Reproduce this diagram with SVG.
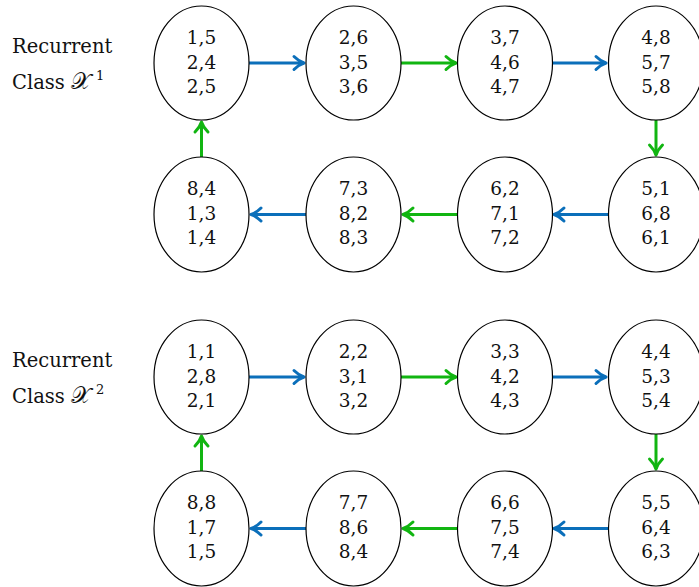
<svg xmlns="http://www.w3.org/2000/svg" width="699" height="587" viewBox="0 0 699 587">
<style>
.n ellipse{fill:#fff;stroke:#000;stroke-width:1.2}
.n text{font-family:"DejaVu Serif",serif;font-size:18.5px;text-anchor:middle;fill:#111}
.lbl{font-family:"DejaVu Serif",serif;font-size:19.5px;fill:#111}
.x{font-size:23px}
.b{stroke:#0b6fba;stroke-width:3;fill:none}
.g{stroke:#11b511;stroke-width:3;fill:none}
</style>
<defs>
<marker id="ab" markerUnits="userSpaceOnUse" markerWidth="20" markerHeight="20" refX="0" refY="0" viewBox="-12 -10 14 20" orient="auto" overflow="visible">
<path d="M-10,-6.5 Q-5,-1.5 0,0 Q-5,1.5 -10,6.5" fill="none" stroke="#0b6fba" stroke-width="3" stroke-linecap="round" stroke-linejoin="round"/>
</marker>
<marker id="ag" markerUnits="userSpaceOnUse" markerWidth="20" markerHeight="20" refX="0" refY="0" viewBox="-12 -10 14 20" orient="auto" overflow="visible">
<path d="M-10,-6.5 Q-5,-1.5 0,0 Q-5,1.5 -10,6.5" fill="none" stroke="#11b511" stroke-width="3" stroke-linecap="round" stroke-linejoin="round"/>
</marker>
</defs>

<text class="lbl" x="12" y="53">Recurrent</text>
<text class="lbl" x="12" y="89">Class <tspan class="x">𝒳</tspan><tspan font-size="13" dx="5" dy="-9">1</tspan></text>
<text class="lbl" x="12" y="367">Recurrent</text>
<text class="lbl" x="12" y="403">Class <tspan class="x">𝒳</tspan><tspan font-size="13" dx="5" dy="-9">2</tspan></text>

<g id="connectors">
<line class="b" x1="249" y1="63" x2="304" y2="63" marker-end="url(#ab)"/>
<line class="g" x1="401" y1="63" x2="456" y2="63" marker-end="url(#ag)"/>
<line class="b" x1="552" y1="63" x2="606" y2="63" marker-end="url(#ab)"/>
<line class="g" x1="656" y1="120" x2="656" y2="155" marker-end="url(#ag)"/>
<line class="b" x1="608" y1="214.5" x2="554" y2="214.5" marker-end="url(#ab)"/>
<line class="g" x1="458" y1="214.5" x2="403" y2="214.5" marker-end="url(#ag)"/>
<line class="b" x1="306" y1="214.5" x2="251" y2="214.5" marker-end="url(#ab)"/>
<line class="g" x1="201.5" y1="157" x2="201.5" y2="122" marker-end="url(#ag)"/>

<line class="b" x1="249" y1="377" x2="304" y2="377" marker-end="url(#ab)"/>
<line class="g" x1="401" y1="377" x2="456" y2="377" marker-end="url(#ag)"/>
<line class="b" x1="552" y1="377" x2="606" y2="377" marker-end="url(#ab)"/>
<line class="g" x1="656" y1="434" x2="656" y2="469" marker-end="url(#ag)"/>
<line class="b" x1="608" y1="528.5" x2="554" y2="528.5" marker-end="url(#ab)"/>
<line class="g" x1="458" y1="528.5" x2="403" y2="528.5" marker-end="url(#ag)"/>
<line class="b" x1="306" y1="528.5" x2="251" y2="528.5" marker-end="url(#ab)"/>
<line class="g" x1="201.5" y1="471" x2="201.5" y2="436" marker-end="url(#ag)"/>
</g>

<g id="n1" class="n"><ellipse cx="201.5" cy="63" rx="47.5" ry="57"/><text x="201.5" y="44">1,5</text><text x="201.5" y="69">2,4</text><text x="201.5" y="93">2,5</text></g>
<g id="n2" class="n"><ellipse cx="353.5" cy="63" rx="47.5" ry="57"/><text x="353.5" y="44">2,6</text><text x="353.5" y="69">3,5</text><text x="353.5" y="93">3,6</text></g>
<g id="n3" class="n"><ellipse cx="505" cy="63" rx="47.5" ry="57"/><text x="505" y="44">3,7</text><text x="505" y="69">4,6</text><text x="505" y="93">4,7</text></g>
<g id="n4" class="n"><ellipse cx="656" cy="63" rx="47.5" ry="57"/><text x="656" y="44">4,8</text><text x="656" y="69">5,7</text><text x="656" y="93">5,8</text></g>
<g id="n5" class="n"><ellipse cx="656" cy="214.5" rx="47.5" ry="57.5"/><text x="656" y="195">5,1</text><text x="656" y="220">6,8</text><text x="656" y="244">6,1</text></g>
<g id="n6" class="n"><ellipse cx="505" cy="214.5" rx="47.5" ry="57.5"/><text x="505" y="195">6,2</text><text x="505" y="220">7,1</text><text x="505" y="244">7,2</text></g>
<g id="n7" class="n"><ellipse cx="353.5" cy="214.5" rx="47.5" ry="57.5"/><text x="353.5" y="195">7,3</text><text x="353.5" y="220">8,2</text><text x="353.5" y="244">8,3</text></g>
<g id="n8" class="n"><ellipse cx="201.5" cy="214.5" rx="47.5" ry="57.5"/><text x="201.5" y="195">8,4</text><text x="201.5" y="220">1,3</text><text x="201.5" y="244">1,4</text></g>

<g id="m1" class="n"><ellipse cx="201.5" cy="377" rx="47.5" ry="57"/><text x="201.5" y="358">1,1</text><text x="201.5" y="383">2,8</text><text x="201.5" y="407">2,1</text></g>
<g id="m2" class="n"><ellipse cx="353.5" cy="377" rx="47.5" ry="57"/><text x="353.5" y="358">2,2</text><text x="353.5" y="383">3,1</text><text x="353.5" y="407">3,2</text></g>
<g id="m3" class="n"><ellipse cx="505" cy="377" rx="47.5" ry="57"/><text x="505" y="358">3,3</text><text x="505" y="383">4,2</text><text x="505" y="407">4,3</text></g>
<g id="m4" class="n"><ellipse cx="656" cy="377" rx="47.5" ry="57"/><text x="656" y="358">4,4</text><text x="656" y="383">5,3</text><text x="656" y="407">5,4</text></g>
<g id="m5" class="n"><ellipse cx="656" cy="528.5" rx="47.5" ry="57.5"/><text x="656" y="509">5,5</text><text x="656" y="534">6,4</text><text x="656" y="558">6,3</text></g>
<g id="m6" class="n"><ellipse cx="505" cy="528.5" rx="47.5" ry="57.5"/><text x="505" y="509">6,6</text><text x="505" y="534">7,5</text><text x="505" y="558">7,4</text></g>
<g id="m7" class="n"><ellipse cx="353.5" cy="528.5" rx="47.5" ry="57.5"/><text x="353.5" y="509">7,7</text><text x="353.5" y="534">8,6</text><text x="353.5" y="558">8,4</text></g>
<g id="m8" class="n"><ellipse cx="201.5" cy="528.5" rx="47.5" ry="57.5"/><text x="201.5" y="509">8,8</text><text x="201.5" y="534">1,7</text><text x="201.5" y="558">1,5</text></g>
</svg>
